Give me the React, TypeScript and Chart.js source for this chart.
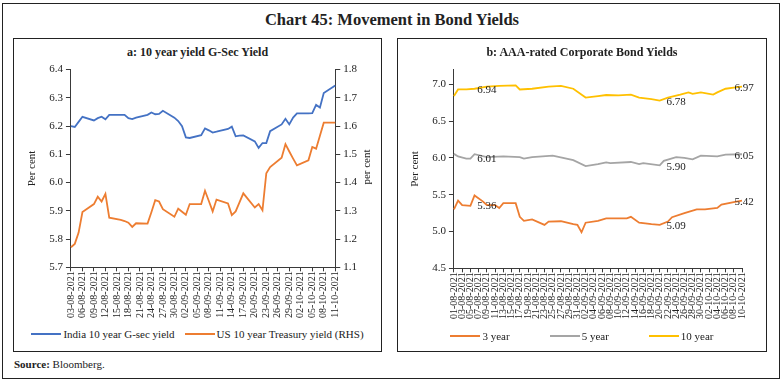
import React, { useEffect, useRef } from 'react';
import { Chart, registerables } from 'chart.js';

Chart.register(...registerables);

// ---------- data ----------
const mainTitle = 'Chart 45: Movement in Bond Yields';
const titleA = 'a: 10 year yield G-Sec Yield';
const titleB = 'b: AAA-rated Corporate Bond Yields';
const sourceNote = 'Bloomberg.';

function dailyLabels(start: Date, end: Date): string[] {
  const out: string[] = [];
  const d = new Date(start.getTime());
  while (d <= end) {
    const dd = String(d.getDate()).padStart(2, '0');
    const mm = String(d.getMonth() + 1).padStart(2, '0');
    out.push(`${dd}-${mm}-${d.getFullYear()}`);
    d.setDate(d.getDate() + 1);
  }
  return out;
}

// calendar-day categories
const datesA = dailyLabels(new Date(2021, 7, 3), new Date(2021, 9, 11));
const datesB = dailyLabels(new Date(2021, 7, 1), new Date(2021, 9, 10));
const tickEveryA = 3;
const tickEveryB = 2;

const yTicksA = { min: 5.7, max: 6.4, step: 0.1 };
const yTicksA2 = { min: 1.1, max: 1.8, step: 0.1 };
const yTicksB = { min: 4.5, max: 7.2, step: 0.5, lastLabel: 7.0 };

const indiaGsec: [string, number][] = [
  ['03-08-2021', 6.2], ['04-08-2021', 6.197], ['05-08-2021', 6.215], ['06-08-2021', 6.233],
  ['09-08-2021', 6.22], ['10-08-2021', 6.228], ['11-08-2021', 6.233], ['12-08-2021', 6.224],
  ['13-08-2021', 6.24], ['16-08-2021', 6.24], ['17-08-2021', 6.24], ['18-08-2021', 6.228],
  ['19-08-2021', 6.225], ['20-08-2021', 6.23], ['23-08-2021', 6.24], ['24-08-2021', 6.248],
  ['25-08-2021', 6.242], ['26-08-2021', 6.243], ['27-08-2021', 6.254], ['30-08-2021', 6.23],
  ['31-08-2021', 6.218], ['01-09-2021', 6.2], ['02-09-2021', 6.16], ['03-09-2021', 6.158],
  ['06-09-2021', 6.168], ['07-09-2021', 6.192], ['08-09-2021', 6.185], ['09-09-2021', 6.177],
  ['10-09-2021', 6.18], ['13-09-2021', 6.19], ['14-09-2021', 6.198], ['15-09-2021', 6.164],
  ['16-09-2021', 6.166], ['17-09-2021', 6.167], ['20-09-2021', 6.146], ['21-09-2021', 6.123],
  ['22-09-2021', 6.14], ['23-09-2021', 6.14], ['24-09-2021', 6.182], ['27-09-2021', 6.206],
  ['28-09-2021', 6.226], ['29-09-2021', 6.206], ['30-09-2021', 6.23], ['01-10-2021', 6.245],
  ['04-10-2021', 6.245], ['05-10-2021', 6.246], ['06-10-2021', 6.275], ['07-10-2021', 6.266],
  ['08-10-2021', 6.317], ['11-10-2021', 6.344],
];

const usTreasury: [string, number][] = [
  ['03-08-2021', 1.171], ['04-08-2021', 1.183], ['05-08-2021', 1.223], ['06-08-2021', 1.296],
  ['09-08-2021', 1.324], ['10-08-2021', 1.35], ['11-08-2021', 1.333], ['12-08-2021', 1.36],
  ['13-08-2021', 1.276], ['16-08-2021', 1.268], ['17-08-2021', 1.264], ['18-08-2021', 1.258],
  ['19-08-2021', 1.243], ['20-08-2021', 1.256], ['23-08-2021', 1.255], ['24-08-2021', 1.295],
  ['25-08-2021', 1.338], ['26-08-2021', 1.333], ['27-08-2021', 1.306], ['30-08-2021', 1.279],
  ['31-08-2021', 1.308], ['01-09-2021', 1.297], ['02-09-2021', 1.286], ['03-09-2021', 1.324],
  ['06-09-2021', 1.324], ['07-09-2021', 1.371], ['08-09-2021', 1.335], ['09-09-2021', 1.298],
  ['10-09-2021', 1.34], ['13-09-2021', 1.326], ['14-09-2021', 1.285], ['15-09-2021', 1.298],
  ['16-09-2021', 1.33], ['17-09-2021', 1.362], ['20-09-2021', 1.312], ['21-09-2021', 1.324],
  ['22-09-2021', 1.302], ['23-09-2021', 1.433], ['24-09-2021', 1.455], ['27-09-2021', 1.488],
  ['28-09-2021', 1.536], ['29-09-2021', 1.51], ['30-09-2021', 1.485], ['01-10-2021', 1.461],
  ['04-10-2021', 1.479], ['05-10-2021', 1.526], ['06-10-2021', 1.52], ['07-10-2021', 1.566],
  ['08-10-2021', 1.612], ['11-10-2021', 1.612],
];

const aaa3y: [string, number][] = [
  ['01-08-2021', 5.3], ['02-08-2021', 5.42], ['03-08-2021', 5.36], ['05-08-2021', 5.35],
  ['06-08-2021', 5.49], ['08-08-2021', 5.41], ['09-08-2021', 5.36], ['11-08-2021', 5.36],
  ['12-08-2021', 5.32], ['13-08-2021', 5.385], ['16-08-2021', 5.385], ['17-08-2021', 5.2],
  ['18-08-2021', 5.145], ['20-08-2021', 5.165], ['23-08-2021', 5.09], ['24-08-2021', 5.135],
  ['27-08-2021', 5.14], ['30-08-2021', 5.1], ['31-08-2021', 5.09], ['01-09-2021', 4.99],
  ['02-09-2021', 5.12], ['05-09-2021', 5.145], ['07-09-2021', 5.18], ['12-09-2021', 5.18],
  ['13-09-2021', 5.2], ['15-09-2021', 5.12], ['18-09-2021', 5.1], ['20-09-2021', 5.09],
  ['22-09-2021', 5.135], ['23-09-2021', 5.195], ['26-09-2021', 5.25], ['29-09-2021', 5.3],
  ['01-10-2021', 5.3], ['04-10-2021', 5.32], ['05-10-2021', 5.365], ['08-10-2021', 5.4],
  ['10-10-2021', 5.42],
];

const aaa5y: [string, number][] = [
  ['01-08-2021', 6.055], ['02-08-2021', 6.02], ['04-08-2021', 5.99], ['05-08-2021', 5.99],
  ['06-08-2021', 6.05], ['09-08-2021', 6.01], ['13-08-2021', 6.02], ['17-08-2021', 6.01],
  ['18-08-2021', 5.99], ['20-08-2021', 6.01], ['25-08-2021', 6.03], ['30-08-2021', 5.97],
  ['02-09-2021', 5.89], ['05-09-2021', 5.915], ['07-09-2021', 5.94], ['08-09-2021', 5.93],
  ['13-09-2021', 5.945], ['15-09-2021', 5.915], ['16-09-2021', 5.93], ['20-09-2021', 5.9],
  ['21-09-2021', 5.96], ['24-09-2021', 6.01], ['26-09-2021', 6.0], ['28-09-2021', 5.98],
  ['30-09-2021', 6.03], ['04-10-2021', 6.02], ['06-10-2021', 6.045], ['10-10-2021', 6.05],
];

const aaa10y: [string, number][] = [
  ['01-08-2021', 6.84], ['02-08-2021', 6.93], ['04-08-2021', 6.93], ['06-08-2021', 6.94],
  ['09-08-2021', 6.97], ['12-08-2021', 6.98], ['16-08-2021', 6.985], ['17-08-2021', 6.93],
  ['20-08-2021', 6.94], ['24-08-2021', 6.97], ['27-08-2021', 6.98], ['30-08-2021', 6.94],
  ['02-09-2021', 6.82], ['05-09-2021', 6.84], ['07-09-2021', 6.855], ['10-09-2021', 6.85],
  ['13-09-2021', 6.86], ['15-09-2021', 6.82], ['18-09-2021', 6.8], ['20-09-2021', 6.78],
  ['22-09-2021', 6.82], ['25-09-2021', 6.86], ['27-09-2021', 6.89], ['28-09-2021', 6.87],
  ['30-09-2021', 6.89], ['03-10-2021', 6.86], ['04-10-2021', 6.89], ['06-10-2021', 6.94],
  ['08-10-2021', 6.955], ['10-10-2021', 6.97],
];

// which points carry a value label (panel b), and the columns the labels are centred on
const labelDates3 = ['09-08-2021', '20-09-2021', '10-10-2021'];
const labelDates5 = ['09-08-2021', '20-09-2021', '10-10-2021'];
const labelDates10 = ['06-08-2021', '20-09-2021', '10-10-2021'];
const labelAnchorDates = ['09-08-2021', '24-09-2021', '10-10-2021'];

// ---------- styles ----------
const FONT = '"Liberation Serif", "Times New Roman", serif';
const TEXT = '#222';
const AXIS = '#3a3a3a';
const BLUE = '#4472C4';
const ORANGE = '#ED7D31';
const GREY = '#A5A5A5';
const GOLD = '#FFC000';

const toXY = (arr: [string, number][]) => arr.map(([x, y]) => ({ x, y }));

function axisCommon() {
  return {
    grid: { display: true, drawOnChartArea: false, drawTicks: true, tickLength: 5, color: AXIS },
    border: { display: true, color: AXIS, width: 1 },
  };
}

function yScale(lim: { min: number; max: number; step: number; lastLabel?: number }, position: string, title?: string) {
  return {
    type: 'linear',
    position,
    min: lim.min,
    max: lim.max,
    afterBuildTicks: (s: any) => {
      if (lim.lastLabel !== undefined) s.ticks = s.ticks.filter((t: any) => t.value <= lim.lastLabel! + 1e-9);
    },
    ticks: {
      stepSize: lim.step,
      callback: (v: any) => Number(v).toFixed(1),
      font: { family: FONT, size: 11 },
      color: TEXT,
      padding: 3,
    },
    title: title
      ? { display: true, text: title, font: { family: FONT, size: 11 }, color: TEXT, padding: { top: 3, bottom: 7 } }
      : { display: false },
    ...axisCommon(),
  };
}

function xScale(every: number) {
  return {
    type: 'category',
    offset: false,
    afterBuildTicks: (s: any) => {
      s.ticks = s.ticks.filter((t: any) => t.value % every === 0);
    },
    ticks: {
      autoSkip: false,
      maxRotation: 90,
      minRotation: 90,
      font: { family: FONT, size: 10 },
      color: TEXT,
      padding: 0,
    },
    ...axisCommon(),
    grid: { display: true, drawOnChartArea: false, drawTicks: true, tickLength: 4, color: AXIS },
  };
}

const valueLabelPlugin = {
  id: 'valueLabels',
  afterDatasetsDraw(chart: any) {
    const { ctx, scales } = chart;
    const specs = [labelDates3, labelDates5, labelDates10];
    ctx.save();
    ctx.font = `11px ${FONT}`;
    ctx.fillStyle = TEXT;
    ctx.textAlign = 'center';
    ctx.textBaseline = 'middle';
    chart.data.datasets.forEach((ds: any, di: number) => {
      const dates = specs[di];
      if (!dates) return;
      dates.forEach((d, k) => {
        const p = ds.data.find((q: any) => q.x === d);
        if (!p) return;
        const x = scales.x.getPixelForValue(datesB.indexOf(labelAnchorDates[k]));
        const y = scales.y.getPixelForValue(p.y);
        ctx.fillText(p.y.toFixed(2), x + (k === 2 ? 2 : 0), y + 1.5);
      });
    });
    ctx.restore();
  },
};

function ChartCanvas({ config, width, height, style }: any) {
  const ref = useRef<HTMLCanvasElement>(null);
  useEffect(() => {
    const chart = new Chart(ref.current as HTMLCanvasElement, config);
    return () => chart.destroy();
  }, []);
  return <canvas ref={ref} width={width} height={height} style={{ position: 'absolute', width, height, ...style }} />;
}

const lineDs = (label: string, data: [string, number][], color: string, axis = 'y') => ({
  label,
  data: toXY(data),
  borderColor: color,
  backgroundColor: color,
  borderWidth: 1.8,
  pointRadius: 0,
  tension: 0,
  yAxisID: axis,
});

const configA: any = {
  type: 'line',
  data: {
    labels: datesA,
    datasets: [
      lineDs('India 10 year G-sec yield', indiaGsec, BLUE, 'y'),
      lineDs('US 10 year Treasury yield (RHS)', usTreasury, ORANGE, 'y1'),
    ],
  },
  options: {
    animation: false,
    responsive: false,
    devicePixelRatio: 1,
    layout: { padding: { left: 9, right: 20, top: 6, bottom: 4 } },
    plugins: { legend: { display: false }, tooltip: { enabled: false } },
    scales: {
      x: xScale(tickEveryA),
      y: yScale(yTicksA, 'left', 'Per cent'),
      y1: yScale(yTicksA2, 'right'),
    },
  },
};

const configB: any = {
  type: 'line',
  data: {
    labels: datesB,
    datasets: [
      lineDs('3 year', aaa3y, ORANGE),
      lineDs('5 year', aaa5y, GREY),
      lineDs('10 year', aaa10y, GOLD),
    ],
  },
  options: {
    animation: false,
    responsive: false,
    devicePixelRatio: 1,
    layout: { padding: { left: 8, right: 23, top: 4, bottom: 3 } },
    plugins: { legend: { display: false }, tooltip: { enabled: false } },
    scales: {
      x: xScale(tickEveryB),
      y: yScale(yTicksB, 'left', 'Per cent'),
    },
  },
  plugins: [valueLabelPlugin],
};

function Legend({ items, gap, left, width, top }: any) {
  return (
    <div
      style={{
        position: 'absolute', left, width, top, display: 'flex', justifyContent: 'center', gap,
        fontFamily: FONT, fontSize: 11, color: TEXT, lineHeight: '14px', whiteSpace: 'nowrap',
      }}
    >
      {items.map((it: any) => (
        <div key={it.label} style={{ display: 'flex', alignItems: 'center' }}>
          <span style={{ display: 'inline-block', width: 30, height: 2, background: it.color, marginRight: 2 }} />
          <span>{it.label}</span>
        </div>
      ))}
    </div>
  );
}

export default function App() {
  const box = (left: number, top: number, width: number, height: number): React.CSSProperties => ({
    position: 'absolute', left, top, width, height, border: '1px solid #222', boxSizing: 'border-box',
  });
  return (
    <div style={{ position: 'fixed', left: 0, top: 0, width: 784, height: 381, background: '#fff', overflow: 'hidden', fontFamily: FONT }}>
      <div style={box(2, 3, 778, 376)} />
      <div style={{ position: 'absolute', left: 0, width: 784, top: 10, textAlign: 'center', fontSize: 16.5, fontWeight: 'bold', color: '#222' }}>
        {mainTitle}
      </div>

      {/* panel a */}
      <div style={box(13, 38, 369, 314)} />
      <div style={{ position: 'absolute', left: 13, width: 369, top: 45, textAlign: 'center', fontSize: 12, fontWeight: 'bold', color: '#222' }}>
        {titleA}
      </div>
      <ChartCanvas config={configA} width={366} height={262} style={{ left: 14, top: 60 }} />
      <div style={{ position: 'absolute', left: 366, top: 167, transform: 'translate(-50%, -50%) rotate(-90deg)', fontSize: 11, color: TEXT, whiteSpace: 'nowrap' }}>
        per cent
      </div>
      <Legend
        left={13} width={369} top={327} gap={10}
        items={[{ label: 'India 10 year G-sec yield', color: BLUE }, { label: 'US 10 year Treasury yield (RHS)', color: ORANGE }]}
      />

      {/* panel b */}
      <div style={box(397, 38, 370, 314)} />
      <div style={{ position: 'absolute', left: 397, width: 370, top: 45, textAlign: 'center', fontSize: 12, fontWeight: 'bold', color: '#222' }}>
        {titleB}
      </div>
      <ChartCanvas config={configB} width={367} height={262} style={{ left: 398, top: 60 }} />
      <Legend
        left={397} width={370} top={329} gap={40}
        items={[{ label: '3 year', color: ORANGE }, { label: '5 year', color: GREY }, { label: '10 year', color: GOLD }]}
      />

      <div style={{ position: 'absolute', left: 14, top: 358, fontSize: 11, color: '#222' }}>
        <b>Source:</b> {sourceNote}
      </div>
    </div>
  );
}
